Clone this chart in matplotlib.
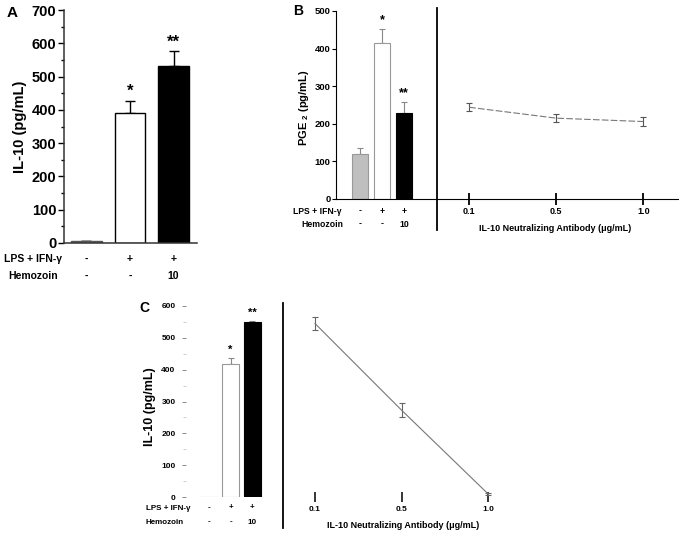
import matplotlib
matplotlib.use('Agg')
import matplotlib.pyplot as plt
import matplotlib.transforms as mtransforms
from matplotlib.lines import Line2D
import numpy as np

plt.rcParams['font.family'] = ['Liberation Sans', 'DejaVu Sans']
plt.rcParams['font.weight'] = 'bold'
plt.rcParams['mathtext.fontset'] = 'custom'
plt.rcParams['mathtext.rm'] = 'Liberation Sans:bold'
plt.rcParams['mathtext.bf'] = 'Liberation Sans:bold'

W, H = 679, 533

# Treatment rows under the bars
lps_row = ['-', '+', '+']
hemozoin_row = ['-', '-', '10']
antibody_doses = ['0.1', '0.5', '1.0']
stars = ['', '*', '**']

# Panel A - IL-10
il10_a = [5, 390, 533]
il10_a_err = [2, 38, 44]

# Panel B - PGE2
pge2_b = [120, 415, 229]
pge2_b_err = [16, 37, 29]
pge2_antibody = [244, 215, 206]
pge2_antibody_err = [11, 11, 11]

# Panel C - IL-10
il10_c = [0, 418, 550]
il10_c_err = [0, 20, 4]
il10_antibody = [545, 273, 10]
il10_antibody_err = [19, 21, 3]

fig = plt.figure(figsize=(W / 100, H / 100), dpi=100)


def axes_px(left, right, top, bottom):
    return fig.add_axes([left / W, 1 - bottom / H, (right - left) / W, (bottom - top) / H])


def fig_text(x, y, s, **kw):
    fig.text(x / W, 1 - y / H, s, ha=kw.pop('ha', 'center'), va=kw.pop('va', 'center'), **kw)


def row_labels(ax, y1, y2, size, label_x1, label_x2):
    trans = mtransforms.blended_transform_factory(ax.transData, fig.transFigure)
    for i, (a, b) in enumerate(zip(lps_row, hemozoin_row)):
        ax.text(i, 1 - y1 / H, a, transform=trans, ha='center', va='center', fontsize=size)
        ax.text(i, 1 - y2 / H, b, transform=trans, ha='center', va='center', fontsize=size)
    fig_text(label_x1, y1, 'LPS + IFN-γ', fontsize=size)
    fig_text(label_x2, y2, 'Hemozoin', fontsize=size)


def add_stars(ax, vals, errs, size, offset):
    for i, s in enumerate(stars):
        if s:
            ax.annotate(s, (i, vals[i] + errs[i]), xytext=(0, offset), textcoords='offset points',
                        ha='center', va='bottom', fontsize=size)


def divider(x, y1, y2):
    fig.add_artist(Line2D([x / W, x / W], [1 - y1 / H, 1 - y2 / H], color='black',
                          linewidth=1.3, transform=fig.transFigure))


x = np.arange(3)

# ---------------- Panel A ----------------
axA = axes_px(64, 197, 10, 243)
axA.bar(x, il10_a, width=0.71, color=['#808080', 'white', 'black'],
        edgecolor=['#555555', 'black', 'black'], linewidth=1, zorder=2)
axA.errorbar(x, il10_a, yerr=[np.zeros(3), il10_a_err], fmt='none', ecolor='black',
             elinewidth=1, capsize=3.5, capthick=1, zorder=1)
axA.set_xlim(-0.517, 2.54)
axA.set_ylim(0, 700)
axA.set_yticks(np.arange(0, 701, 100))
axA.set_yticks(np.arange(50, 700, 100), minor=True)
axA.set_xticks([])
axA.tick_params(axis='y', which='major', length=4, width=1, labelsize=10.5, pad=1.5)
axA.tick_params(axis='y', which='minor', length=2, width=1)
for s in ['top', 'right']:
    axA.spines[s].set_visible(False)
for s in ['left', 'bottom']:
    axA.spines[s].set_linewidth(1.1)
    axA.spines[s].set_color('#333333')
add_stars(axA, il10_a, il10_a_err, 12, 1)
row_labels(axA, 259, 276, 7.5, 33, 33)
fig_text(20, 127, 'IL-10 (pg/mL)', fontsize=10.5, rotation=90)
fig_text(12, 13, 'A', fontsize=11)

# ---------------- Panel B ----------------
axB = axes_px(336, 437, 11, 199)
axB.bar(x, pge2_b, width=0.77, color=['#bfbfbf', 'white', 'black'],
        edgecolor=['#999999', '#999999', 'black'], linewidth=0.8, zorder=2)
axB.errorbar(x, pge2_b, yerr=[np.zeros(3), pge2_b_err], fmt='none', ecolor='#888888',
             elinewidth=0.8, capsize=2.5, capthick=0.8, zorder=1)
axB.set_xlim(-1.09, 3.5)
axB.set_ylim(0, 500)
axB.set_yticks(np.arange(0, 501, 100))
axB.set_xticks([])
axB.tick_params(axis='y', length=3, width=0.8, labelsize=6.8, pad=1)
for s in ['top', 'right']:
    axB.spines[s].set_visible(False)
for s in ['left', 'bottom']:
    axB.spines[s].set_linewidth(0.8)
add_stars(axB, pge2_b, pge2_b_err, 9, 2)
row_labels(axB, 211, 224, 6.2, 317, 322)
fig_text(304, 108, r'PGE $_{2}$ (pg/mL)', fontsize=8, rotation=90)
fig_text(298, 11, 'B', fontsize=10)

axB2 = axes_px(437, 679, 11, 199)
axB2.errorbar(x, pge2_antibody, yerr=pge2_antibody_err, color='#777777', linewidth=0.8,
              linestyle=(0, (6, 2)), elinewidth=0.8, ecolor='#555555', capsize=2, capthick=0.8)
axB2.set_xlim(-0.37, 2.41)
axB2.set_ylim(0, 500)
axB2.set_xticks(x)
axB2.set_xticklabels(antibody_doses)
axB2.set_yticks([])
axB2.tick_params(axis='x', direction='inout', length=8, width=1.3, labelsize=6.5, pad=2)
for s in ['top', 'right', 'left']:
    axB2.spines[s].set_visible(False)
axB2.spines['bottom'].set_linewidth(0.8)
fig_text(555, 228, 'IL-10 Neutralizing Antibody (μg/mL)', fontsize=6.5)
divider(437, 8, 230)

# ---------------- Panel C ----------------
axC = axes_px(186, 283, 306, 497)
axC.bar(x, il10_c, width=0.77, color=['#bfbfbf', 'white', 'black'],
        edgecolor=['#999999', '#999999', 'black'], linewidth=0.8, zorder=2)
axC.errorbar(x[1:], il10_c[1:], yerr=[np.zeros(2), il10_c_err[1:]], fmt='none', ecolor='#888888',
             elinewidth=0.8, capsize=2.5, capthick=0.8, zorder=1)
axC.set_xlim(-1.05, 3.41)
axC.set_ylim(0, 600)
axC.set_yticks(np.arange(0, 601, 100))
axC.set_yticks(np.arange(50, 600, 100), minor=True)
axC.set_xticks([])
axC.tick_params(axis='y', which='major', length=3, width=0.6, color='#777777', labelsize=6, pad=4.5)
axC.tick_params(axis='y', which='minor', length=2, width=0.5, color='#bbbbbb')
for s in axC.spines.values():
    s.set_visible(False)
add_stars(axC, il10_c, il10_c_err, 8, 2)
row_labels(axC, 508, 522, 5.8, 168, 165)
fig_text(150, 407, 'IL-10 (pg/mL)', fontsize=9, rotation=90)
fig_text(144, 308, 'C', fontsize=10)

axC2 = axes_px(283, 520, 306, 497)
axC2.errorbar(x, il10_antibody, yerr=il10_antibody_err, color='#777777', linewidth=0.8,
              elinewidth=0.8, ecolor='#666666', capsize=2, capthick=0.8)
axC2.set_xlim(-0.37, 2.37)
axC2.set_ylim(0, 600)
axC2.set_xticks(x)
axC2.set_xticklabels(antibody_doses)
axC2.set_yticks([])
axC2.tick_params(axis='x', direction='inout', length=7, width=1.1, labelsize=6, pad=3)
for s in axC2.spines.values():
    s.set_visible(False)
fig_text(403, 525, 'IL-10 Neutralizing Antibody (μg/mL)', fontsize=6.5)
divider(283, 303, 528)

fig.savefig('out.png', dpi=100)
